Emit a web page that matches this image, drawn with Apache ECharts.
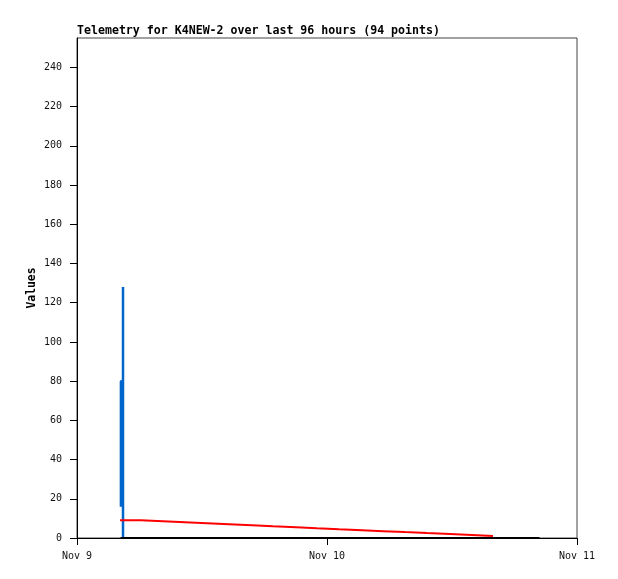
<!DOCTYPE html>
<html>
<head>
<meta charset="utf-8">
<script src="https://cdn.jsdelivr.net/npm/echarts@6/dist/echarts.min.js"></script>
<style>html,body{margin:0;padding:0;background:#fff}#c{width:618px;height:579px}</style>
</head>
<body>
<div id="c"></div>
<script>
var titleText = 'Telemetry for K4NEW-2 over last 96 hours (94 points)';
var yTicks = [0, 20, 40, 60, 80, 100, 120, 140, 160, 180, 200, 220, 240];
var xTickLabels = ['Nov 9', 'Nov 10', 'Nov 11'];

var blueTimes = ['2024-11-09 04:13', '2024-11-09 04:13', '2024-11-09 04:25', '2024-11-09 04:25', '2024-11-09 04:25'];
var blueValues = [16, 80, 80, 128, 0];

var redTimes = ['2024-11-09 04:08', '2024-11-09 06:09', '2024-11-09 08:15', '2024-11-09 10:22',
  '2024-11-09 12:29', '2024-11-09 14:36', '2024-11-09 16:48', '2024-11-09 18:49',
  '2024-11-09 21:01', '2024-11-09 23:02', '2024-11-10 01:09', '2024-11-10 03:22',
  '2024-11-10 05:23', '2024-11-10 07:29', '2024-11-10 09:36', '2024-11-10 11:48',
  '2024-11-10 13:55', '2024-11-10 15:56'];
var redValues = [9, 8.5, 8, 7.5, 7, 6.5, 6, 5.5, 5, 4.5, 4, 3.5, 3, 2.5, 2, 1.5, 1, 1];

var blackTimes = ['2024-11-09 04:11', '2024-11-10 20:24'];
var blackValues = [0, 0];

function toMs(s) {
  var p = s.split(/[- :]/).map(Number);
  return Date.UTC(p[0], p[1] - 1, p[2], p[3], p[4]);
}
function pairs(ts, vs) { return ts.map(function (t, i) { return [toMs(t), vs[i]]; }); }

var xMin = Date.UTC(2024, 10, 9);
var day = 86400000;
var xMax = xMin + 2 * day;
var mono = 'DejaVu Sans Mono';

var chart = echarts.init(document.getElementById('c'), null, {renderer: 'canvas'});
chart.setOption({
  animation: false,
  backgroundColor: '#fff',
  title: {
    text: titleText, left: 77, top: 25, padding: 0,
    textStyle: {fontFamily: mono, fontSize: 11.6, fontWeight: 'bold', color: '#000'}
  },
  grid: {left: 77, top: 38, width: 500, height: 500, show: true, borderColor: '#444', borderWidth: 1, backgroundColor: 'transparent'},
  xAxis: {
    type: 'value', min: xMin, max: xMax, interval: day,
    axisLine: {show: true, lineStyle: {color: '#000', width: 1}},
    axisTick: {show: true, length: 7, lineStyle: {color: '#000'}},
    splitLine: {show: false},
    axisLabel: {
      margin: 13, fontFamily: mono, fontSize: 10, color: '#111',
      formatter: function (v) { return xTickLabels[Math.round((v - xMin) / day)]; }
    }
  },
  yAxis: {
    type: 'value', min: 0, max: 255,
    name: 'Values', nameLocation: 'middle', nameRotate: 90, nameGap: 39, nameMoveOverlap: false,
    nameTextStyle: {fontFamily: mono, fontSize: 11.4, fontWeight: 'bold', color: '#000'},
    axisLine: {show: true, lineStyle: {color: '#000', width: 1}},
    axisTick: {show: true, length: 7, lineStyle: {color: '#000'}, customValues: yTicks},
    splitLine: {show: false},
    axisLabel: {margin: 15, fontFamily: mono, fontSize: 10, color: '#111', customValues: yTicks}
  },
  series: [
    {type: 'line', data: pairs(blueTimes, blueValues), showSymbol: false, symbol: 'none',
      lineStyle: {color: '#0066cc', width: 2.5}, z: 2},
    {type: 'line', data: pairs(redTimes, redValues), step: 'end', showSymbol: false, symbol: 'none',
      lineStyle: {color: '#ff0000', width: 2}, z: 3},
    {type: 'line', data: pairs(blackTimes, blackValues), showSymbol: false, symbol: 'none',
      lineStyle: {color: '#000000', width: 2}, z: 4}
  ]
});
</script>
</body>
</html>
